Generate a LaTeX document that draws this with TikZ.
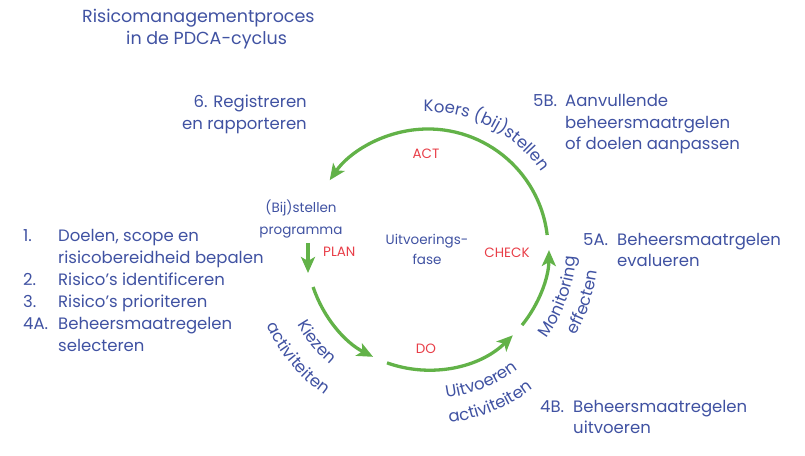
\documentclass[tikz,border=0pt]{standalone}
\usepackage{fontspec}
\setmainfont{Poppins}
\usetikzlibrary{arrows.meta,decorations.text}
\definecolor{tblue}{RGB}{64,82,162}
\definecolor{tred}{RGB}{232,62,72}
\definecolor{tgreen}{RGB}{98,178,72}
\newcommand{\bigf}{\fontsize{16.5}{22}\selectfont}
\newcommand{\smallf}{\fontsize{13.5}{16}\selectfont}
\begin{document}
\begin{tikzpicture}[x=1pt,y=1pt,
  lbl/.style={text=tblue,font=\bigf,inner sep=0pt},
  ttl/.style={text=tblue,font=\fontsize{17.5}{22}\selectfont,inner sep=0pt},
  small/.style={text=tblue,font=\smallf,inner sep=0pt},
  phase/.style={text=tred,font=\smallf,inner sep=0pt},
  cyc/.style={draw=tgreen,line width=3.3pt,-{Stealth[length=16pt,width=14pt,inset=4pt]}},
  curv/.style={decorate,decoration={text along path,text align=center,text color=tblue,
     text={|\bigf|#1}}},
]
\useasboundingbox (0,0) rectangle (805,455);
\coordinate (O) at (428,206);

% title
\node[ttl,anchor=base west] (t1) at (82,432) {Risicomanagementproces};
\node[ttl,anchor=base west] (t2) at (126,410) {in de PDCA-cyclus};

% 6
\node[lbl,anchor=base east] (r1) at (307,347) {6. Registreren};
\node[lbl,anchor=base east] (r2) at (307,325) {en rapporteren};

% 5B
\node[lbl,anchor=base west] (b5n) at (533,348) {5B.};
\node[lbl,anchor=base west] (b5a) at (565,348) {Aanvullende};
\node[lbl,anchor=base west] (b5b) at (565,326) {beheersmaatrgelen};
\node[lbl,anchor=base west] (b5c) at (565,305) {of doelen aanpassen};

% 5A
\node[lbl,anchor=base west] (a5n) at (583,209) {5A.};
\node[lbl,anchor=base west] (a5a) at (617,209) {Beheersmaatrgelen};
\node[lbl,anchor=base west] (a5b) at (617,188) {evalueren};

% 4B
\node[lbl,anchor=base west] (b4n) at (540,43) {4B.};
\node[lbl,anchor=base west] (b4a) at (573,43) {Beheersmaatregelen};
\node[lbl,anchor=base west] (b4b) at (573,22) {uitvoeren};

% left list
\node[lbl,anchor=base west] (n1) at (23,213) {1.};
\node[lbl,anchor=base west] (l1a) at (58,213) {Doelen, scope en};
\node[lbl,anchor=base west] (l1b) at (58,191) {risicobereidheid bepalen};
\node[lbl,anchor=base west] (n2) at (23,169) {2.};
\node[lbl,anchor=base west] (l2) at (58,169) {Risico’s identificeren};
\node[lbl,anchor=base west] (n3) at (23,147) {3.};
\node[lbl,anchor=base west] (l3) at (58,147) {Risico’s prioriteren};
\node[lbl,anchor=base west] (n4) at (23,125) {4A.};
\node[lbl,anchor=base west] (l4a) at (58,125) {Beheersmaatregelen};
\node[lbl,anchor=base west] (l4b) at (58,103) {selecteren};

% inner labels
\node[small,anchor=base] (bij) at (301,242) {(Bij)stellen};
\node[small,anchor=base] (prog) at (301,220) {programma};
\node[small,anchor=base] (uit1) at (427,210) {Uitvoerings-};
\node[small,anchor=base] (uit2) at (427,190) {fase};
\node[phase,anchor=base west] (plan) at (323,198) {PLAN};
\node[phase,anchor=base] (check) at (507,197) {CHECK};
\node[phase,anchor=base] (act) at (426,296) {ACT};
\node[phase,anchor=base] (do) at (426,101) {DO};

% cycle arrows
\draw[cyc] ([shift={(6.7:120)}]O) arc[start angle=6.7,end angle=145,radius=120];
\coordinate (planA) at (308,212);
\coordinate (planB) at (308,182);
\draw[cyc] (planA) -- (planB);
\draw[cyc] ([shift={(198.3:121)}]O) arc[start angle=198.3,end angle=243,radius=121];
\draw[cyc] ([shift={(250.2:121)}]O) arc[start angle=250.2,end angle=314.5,radius=121];
\draw[cyc] ([shift={(321:121)}]O) arc[start angle=321,end angle=359.5,radius=121];

% curved labels
\path[curv={Koers (bij)stellen}] ([shift={(110:137)}]O) arc[start angle=110,end angle=16,radius=137];
\path[curv={Kiezen}] ([shift={(180:151)}]O) arc[start angle=180,end angle=260,radius=151];
\path[curv={activiteiten}] ([shift={(180:179)}]O) arc[start angle=180,end angle=260,radius=179];
\path[curv={Uitvoeren}] ([shift={(252:150)}]O) arc[start angle=252,end angle=332,radius=150];
\path[curv={activiteiten}] ([shift={(252:175)}]O) arc[start angle=252,end angle=332,radius=175];
\path[curv={Monitoring}] ([shift={(300:148)}]O) arc[start angle=300,end angle=380,radius=148];
\path[curv={effecten}] ([shift={(301:171)}]O) arc[start angle=301,end angle=381,radius=171];
\end{tikzpicture}
\end{document}
